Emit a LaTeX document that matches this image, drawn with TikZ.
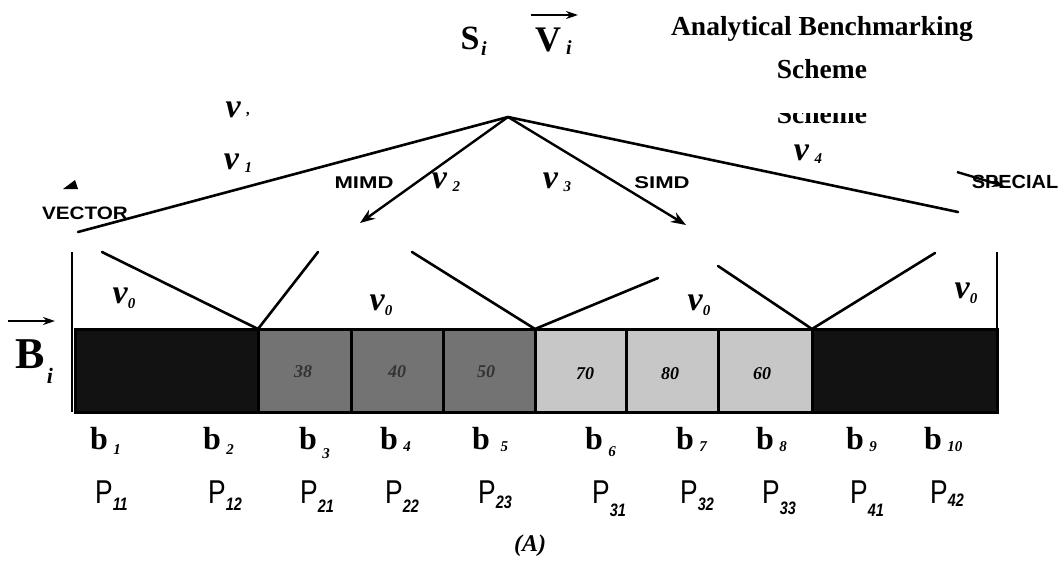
\documentclass[tikz,border=0pt]{standalone}
\usepackage{fontspec}
\setmainfont{Liberation Serif}
\setsansfont{Liberation Sans}
\usetikzlibrary{arrows.meta}
\newcommand\sbi[1]{{\fontsize{15}{15}\selectfont\bfseries\itshape #1}}
\newcommand\psb[1]{{\fontsize{18}{18}\selectfont\bfseries\itshape #1}}
\newcommand\lowsub[2][5pt]{\raisebox{-#1}{\sbi{#2}}}
\newcommand\plow[2][5pt]{\raisebox{-#1}{\psb{#2}}}
\begin{document}
\begin{tikzpicture}[x=1pt,y=-1pt,
 ln/.style={line width=2.6pt, line cap=round},
 arr/.style={line width=2.4pt, -{Stealth[length=15pt,width=11pt]}},
 cellbox/.style={draw=black, line width=3pt, minimum height=83pt, inner sep=0pt, outer sep=0pt, anchor=west},
 num/.style={font=\fontsize{18}{18}\selectfont\bfseries\itshape},
 vlab/.style={font=\fontsize{34}{34}\selectfont\bfseries\itshape, inner sep=0pt},
 slab/.style={font=\fontsize{18}{18}\selectfont\sffamily\bfseries, inner sep=0pt},
 blab/.style={font=\fontsize{32}{32}\selectfont\bfseries, inner sep=0pt, anchor=base west},
 plab/.style={font=\fontsize{33}{33}\selectfont\sffamily, inner sep=0pt, anchor=base west},
 ttl/.style={font=\fontsize{27.5}{27.5}\selectfont\bfseries, inner sep=0pt}]
\useasboundingbox (0,0) rectangle (1063,567);

% ---------- bar cells ----------
\node[cellbox, fill=black!93, minimum width=183pt] (k1) at (75,370.5) {};
\node[cellbox, fill=black!55, minimum width=93pt] (k2) at (258,370.5) {};
\node[cellbox, fill=black!55, minimum width=92pt] (k3) at (351,370.5) {};
\node[cellbox, fill=black!55, minimum width=92pt] (k4) at (443,370.5) {};
\node[cellbox, fill=black!22, minimum width=91pt] (k5) at (535,370.5) {};
\node[cellbox, fill=black!22, minimum width=92pt] (k6) at (626,370.5) {};
\node[cellbox, fill=black!22, minimum width=94pt] (k7) at (718,370.5) {};
\node[cellbox, fill=black!93, minimum width=185pt] (k8) at (812,370.5) {};

\node[num, text=black!80] (n38) at (303,372) {38};
\node[num, text=black!80] (n40) at (397,372) {40};
\node[num, text=black!80] (n50) at (486,372) {50};
\node[num] (n70) at (585,374) {70};
\node[num] (n80) at (670,374) {80};
\node[num] (n60) at (762,374) {60};

% ---------- verticals and v0 lines ----------
\coordinate (lt) at (72,252);
\coordinate (lb) at (72,412);
\coordinate (rt) at (997,252);
\coordinate (rb) at (997,412);
\draw[ln, line cap=butt] (lt) -- (lb);
\draw[ln, line cap=butt] (rt) -- (rb);

\coordinate (j1) at (k1.north east);
\coordinate (j2) at (k4.north east);
\coordinate (j3) at (k7.north east);
\coordinate (e1) at (102,252);
\coordinate (e2) at (318,252);
\coordinate (e3) at (412,252);
\coordinate (e4) at (658,278);
\coordinate (e5) at (718,266);
\coordinate (e6) at (935,253);
\draw[ln] (e1) -- (j1) -- (e2);
\draw[ln] (e3) -- (j2) -- (e4);
\draw[ln] (e5) -- (j3) -- (e6);

\node[vlab] (v01) at (124,298) {v\lowsub{0}};
\node[vlab] (v02) at (381,305) {v\lowsub{0}};
\node[vlab] (v03) at (699,305) {v\lowsub{0}};
\node[vlab] (v04) at (966,293) {v\lowsub{0}};

% ---------- tree ----------
\coordinate (apex) at (508,117);
\coordinate (tv) at (78,232);
\coordinate (tm) at (360,223);
\coordinate (ts) at (686,225);
\coordinate (tp) at (958,212);
\draw[ln] (apex) -- (tv);
\draw[arr] (apex) -- (tm);
\draw[arr] (apex) -- (ts);
\draw[ln] (apex) -- (tp);

\node[slab, xscale=1.15] (vec) at (85,213) {VECTOR};
\node[slab, font=\fontsize{17}{17}\selectfont\sffamily\bfseries, xscale=1.3] (mimd) at (364,183) {MIMD};
\node[slab, font=\fontsize{17}{17}\selectfont\sffamily\bfseries, xscale=1.3] (simd) at (662,183) {SIMD};
\coordinate (sp1) at (957,172);
\coordinate (sp2) at (1004,186);
\draw[line width=2.4pt, -{Stealth[length=12pt,width=9pt]}] (sp1) -- (sp2);
\node[slab, font=\fontsize{19}{19}\selectfont\sffamily\bfseries, xscale=1.05] (spec) at (1015,182) {SPECIAL};
\fill (63,189) -- (75,180) -- (78,189) -- cycle;

\node[vlab] (v1a) at (238,110) {v\,\raisebox{3pt}{\sbi{,}}};
\node[vlab] (v1) at (238,163) {v\,\lowsub[3pt]{1}};
\node[vlab] (v2) at (446,182) {v\,\lowsub[3pt]{2}};
\node[vlab] (v3) at (557,182) {v\,\lowsub[3pt]{3}};
\node[vlab] (v4) at (808,154) {v\,\lowsub[3pt]{4}};

% ---------- titles ----------
\node[font=\fontsize{34}{34}\selectfont\bfseries, inner sep=0pt] (S) at (470,38) {S};
\node[inner sep=0pt] (Si) at (484,49) {\sbi{\fontsize{20}{20}\selectfont i}};
\node[font=\fontsize{36}{36}\selectfont\bfseries, inner sep=0pt] (V) at (548,40) {V};
\node[inner sep=0pt] (Vi) at (569,48) {\sbi{\fontsize{20}{20}\selectfont i}};
\coordinate (va1) at (531,15);
\coordinate (va2) at (578,15);
\draw[line width=2.6pt, -{Stealth[length=12pt,width=8pt]}] (va1) -- (va2);

\node[ttl] (t1) at (822,29) {Analytical Benchmarking};
\node[ttl] (t2) at (822,69) {Scheme};
\begin{scope}
\clip (700,114) rectangle (940,135);
\node[ttl, anchor=base] (t3) at (822,124) {Scheme};
\end{scope}

\node[font=\fontsize{44}{44}\selectfont\bfseries, inner sep=0pt] (B) at (30,354) {B};
\node[inner sep=0pt] (Bi) at (50,376) {\sbi{\fontsize{22}{22}\selectfont i}};
\coordinate (ba1) at (8,321);
\coordinate (ba2) at (55,321);
\draw[line width=2.6pt, -{Stealth[length=12pt,width=8pt]}] (ba1) -- (ba2);

% ---------- b row ----------
\node[blab] (b1) at (90,449) {b\,\lowsub{1}};
\node[blab] (b2) at (203,449) {b\,\lowsub{2}};
\node[blab] (b3) at (299,449) {b\,\lowsub[9pt]{3}};
\node[blab] (b4) at (380,449) {b\,\lowsub[2pt]{4}};
\node[blab] (b5) at (472,449) {b\,\,\lowsub[2pt]{5}};
\node[blab] (b6) at (585,449) {b\,\lowsub[7pt]{6}};
\node[blab] (b7) at (676,449) {b\,\lowsub[2pt]{7}};
\node[blab] (b8) at (756,449) {b\,\lowsub[2pt]{8}};
\node[blab] (b9) at (846,449) {b\,\lowsub[2pt]{9}};
\node[blab] (b10) at (924,449) {b\,\lowsub[2pt]{10}};

% ---------- P row ----------
\node[plab, xscale=0.8] (p11) at (95,503) {P\plow[7pt]{11}};
\node[plab, xscale=0.8] (p12) at (208,503) {P\plow[7pt]{12}};
\node[plab, xscale=0.8] (p21) at (300,503) {P\plow[9pt]{21}};
\node[plab, xscale=0.8] (p22) at (385,503) {P\plow[9pt]{22}};
\node[plab, xscale=0.8] (p23) at (478,503) {P\plow[5pt]{23}};
\node[plab, xscale=0.8] (p31) at (592,503) {P\plow[13pt]{31}};
\node[plab, xscale=0.8] (p32) at (680,503) {P\plow[7pt]{32}};
\node[plab, xscale=0.8] (p33) at (762,503) {P\plow[11pt]{33}};
\node[plab, xscale=0.8] (p41) at (850,503) {P\plow[13pt]{41}};
\node[plab, xscale=0.8] (p42) at (930,503) {P\plow[3pt]{42}};

\node[font=\fontsize{24}{24}\selectfont\bfseries\itshape, inner sep=0pt] (A) at (530,546) {(A)};
\end{tikzpicture}
\end{document}
